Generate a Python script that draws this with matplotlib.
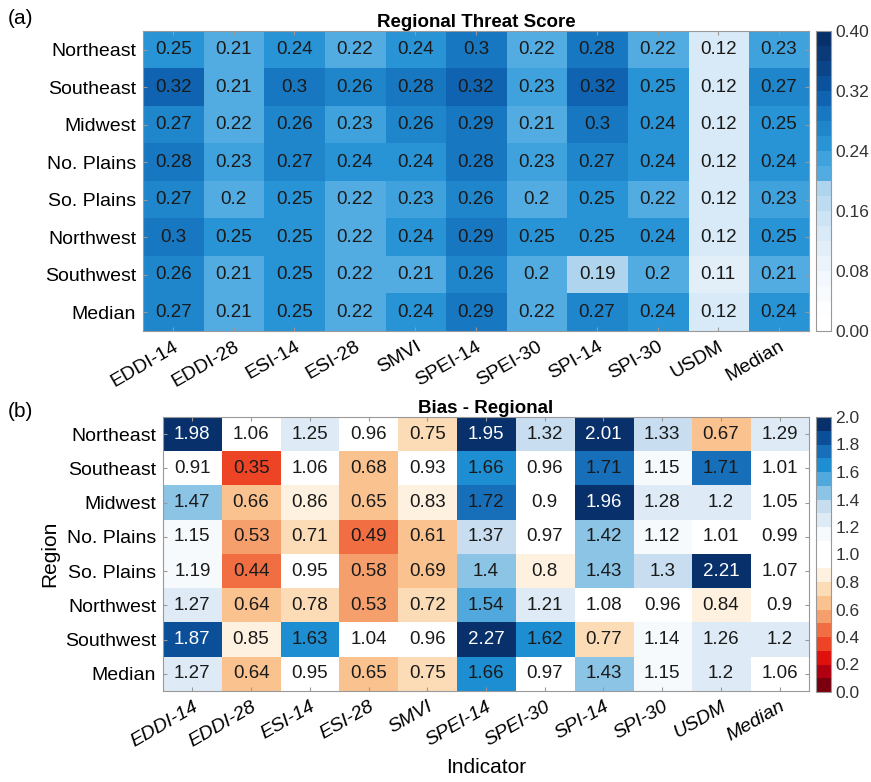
import numpy as np
import matplotlib
matplotlib.use("Agg")
from matplotlib import pyplot as plt
from matplotlib.colors import ListedColormap, Normalize

plt.rcParams['font.family'] = ['Liberation Sans', 'DejaVu Sans']

regions = ["Northeast", "Southeast", "Midwest", "No. Plains", "So. Plains",
           "Northwest", "Southwest", "Median"]
indicators = ["EDDI-14", "EDDI-28", "ESI-14", "ESI-28", "SMVI", "SPEI-14",
              "SPEI-30", "SPI-14", "SPI-30", "USDM", "Median"]

threat_score = [
    [0.25, 0.21, 0.24, 0.22, 0.24, 0.3, 0.22, 0.28, 0.22, 0.12, 0.23],
    [0.32, 0.21, 0.3, 0.26, 0.28, 0.32, 0.23, 0.32, 0.25, 0.12, 0.27],
    [0.27, 0.22, 0.26, 0.23, 0.26, 0.29, 0.21, 0.3, 0.24, 0.12, 0.25],
    [0.28, 0.23, 0.27, 0.24, 0.24, 0.28, 0.23, 0.27, 0.24, 0.12, 0.24],
    [0.27, 0.2, 0.25, 0.22, 0.23, 0.26, 0.2, 0.25, 0.22, 0.12, 0.23],
    [0.3, 0.25, 0.25, 0.22, 0.24, 0.29, 0.25, 0.25, 0.24, 0.12, 0.25],
    [0.26, 0.21, 0.25, 0.22, 0.21, 0.26, 0.2, 0.19, 0.2, 0.11, 0.21],
    [0.27, 0.21, 0.25, 0.22, 0.24, 0.29, 0.22, 0.27, 0.24, 0.12, 0.24],
]

bias = [
    [1.98, 1.06, 1.25, 0.96, 0.75, 1.95, 1.32, 2.01, 1.33, 0.67, 1.29],
    [0.91, 0.35, 1.06, 0.68, 0.93, 1.66, 0.96, 1.71, 1.15, 1.71, 1.01],
    [1.47, 0.66, 0.86, 0.65, 0.83, 1.72, 0.9, 1.96, 1.28, 1.2, 1.05],
    [1.15, 0.53, 0.71, 0.49, 0.61, 1.37, 0.97, 1.42, 1.12, 1.01, 0.99],
    [1.19, 0.44, 0.95, 0.58, 0.69, 1.4, 0.8, 1.43, 1.3, 2.21, 1.07],
    [1.27, 0.64, 0.78, 0.53, 0.72, 1.54, 1.21, 1.08, 0.96, 0.84, 0.9],
    [1.87, 0.85, 1.63, 1.04, 0.96, 2.27, 1.62, 0.77, 1.14, 1.26, 1.2],
    [1.27, 0.64, 0.95, 0.65, 0.75, 1.66, 0.97, 1.43, 1.15, 1.2, 1.06],
]

# stepped colormaps (20 bins each)
ts_colors = ["#ffffff", "#fdfeff", "#f8fbfe", "#f2f8fd", "#ebf4fb",
             "#e2eff9", "#d8eaf7", "#cde4f4", "#bedcf1", "#aed4ee",
             "#52ace2", "#3fa2dc", "#2893d5", "#1f86cc", "#1877c1",
             "#1063b0", "#0b529c", "#0a458a", "#0a3a78", "#08306b"]
bias_colors = ["#7a0010", "#b00012", "#e0100c", "#ec4424", "#f06e42",
               "#f5a06c", "#f9c28e", "#fcdcb6", "#fef1df", "#ffffff",
               "#ffffff", "#f7fafd", "#deebf6", "#c8def0", "#8cc4e6",
               "#50a8dc", "#1c8ed1", "#176fb9", "#0c4f99", "#08306b"]

W, H = 871, 782
fig = plt.figure(figsize=(W / 100, H / 100), dpi=100)


def px_axes(x0, y0, x1, y1):
    return fig.add_axes([x0 / W, 1 - y1 / H, (x1 - x0) / W, (y1 - y0) / H])


def draw_panel(ax, cax, data, colors, vmax, title, fmt, ticks, italic, white_above):
    data = np.array(data)
    cmap = ListedColormap(colors)
    im = ax.imshow(data, cmap=cmap, norm=Normalize(0, vmax), aspect='auto',
                   interpolation='nearest')
    for i in range(data.shape[0]):
        for j in range(data.shape[1]):
            v = data[i, j]
            c = 'white' if (white_above is not None and v >= white_above) else '#1a1a1a'
            ax.text(j, i, f"{v:g}", ha='center', va='center', fontsize=13.5, color=c)
    ax.set_xticks(range(len(indicators)))
    ax.set_xticklabels(indicators, rotation=30, ha='right', rotation_mode='anchor',
                       fontsize=14, fontstyle='italic' if italic else 'normal')
    ax.set_yticks(range(len(regions)))
    ax.set_yticklabels(regions, fontsize=14)
    ax.tick_params(direction='in', length=3, color='#999999', top=True, right=True,
                   pad=5)
    for s in ax.spines.values():
        s.set_color('#999999')
        s.set_linewidth(0.8)
    ax.set_title(title, fontsize=13.5, fontweight='bold', pad=3)
    cb = fig.colorbar(im, cax=cax, ticks=ticks)
    cb.ax.set_yticklabels([fmt % t for t in ticks], fontsize=12.5, color='#333333')
    cb.ax.tick_params(length=0, pad=3)
    cb.outline.set_edgecolor('#999999')
    cb.outline.set_linewidth(0.8)
    return ax


ax1 = px_axes(143, 31, 809, 331)
cax1 = px_axes(816, 31, 831, 331)
draw_panel(ax1, cax1, threat_score, ts_colors, 0.4, "Regional Threat Score", "%.2f",
           np.arange(0, 0.41, 0.08), False, None)

ax2 = px_axes(163, 417, 809, 691)
cax2 = px_axes(816, 417, 831, 692)
draw_panel(ax2, cax2, bias, bias_colors, 2.0, "Bias - Regional", "%.1f",
           np.arange(0, 2.01, 0.2), True, 1.8)
ax2.set_xlabel("Indicator", fontsize=15, labelpad=6)
ax2.set_ylabel("Region", fontsize=15, labelpad=4)

fig.text(8 / W, 1 - 18 / H, "(a)", fontsize=15, va='center', ha='left')
fig.text(8 / W, 1 - 412 / H, "(b)", fontsize=15, va='center', ha='left')

fig.savefig("out.png", dpi=100)
